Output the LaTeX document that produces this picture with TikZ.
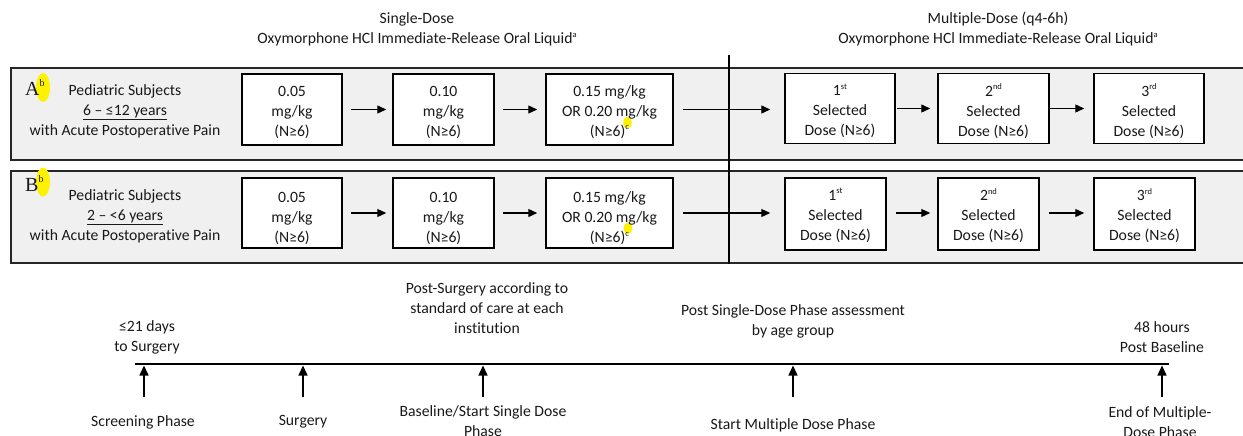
\documentclass[tikz,border=0pt]{standalone}
\usepackage{fontspec}
\setmainfont{Carlito}[Ligatures=NoCommon]
\newfontfamily\lblfont{Liberation Serif}
\usetikzlibrary{arrows.meta}
\newcommand\sps[1]{\raisebox{0.42em}{\fontsize{8.5}{8.5}\selectfont #1}}
\begin{document}
\begin{tikzpicture}[x=1pt,y=-1pt,
  every node/.style={font=\fontsize{15.7}{20}\selectfont, text=black!90},
  rowbox/.style={draw=black!85,line width=1.6pt,fill=black!6,anchor=north west,inner sep=0pt},
  dosebox/.style={draw=black,line width=1.5pt,fill=white,inner sep=0pt},
  txt/.style={align=center,inner sep=0pt},
  flow/.style={line width=1.3pt,-{Triangle[length=9pt,width=8pt]}},
  tflow/.style={line width=1.4pt,-{Triangle[length=10pt,width=9pt]}},
  hl/.style={fill=yellow,draw=none}]
\useasboundingbox (0,0) rectangle (1243,436);

% headers
\node[txt] (hdrS) at (417,29.5) {Single-Dose\\Oxymorphone HCl Immediate-Release Oral Liquid\sps{a}};
\node[txt] (hdrM) at (998,29.5) {Multiple-Dose (q4-6h)\\Oxymorphone HCl Immediate-Release Oral Liquid\sps{a}};

% rows
\node[rowbox,minimum width=1250pt,minimum height=92pt] (rowA) at (10,67) {};
\node[rowbox,minimum width=1250pt,minimum height=92pt] (rowB) at (10,170) {};
\coordinate (divT) at (729,55);
\draw[line width=1.3pt] (divT) -- (divT |- rowB.south);

% highlights of b
\fill[hl] (43,87.5) ellipse [x radius=7pt, y radius=14.5pt];
\fill[hl] (43,182) ellipse [x radius=7pt, y radius=14.5pt];
\node[anchor=base west,inner sep=0pt] (labA) at (25,95.5) {\lblfont\fontsize{20}{20}\selectfont A\raisebox{9pt}{\fontsize{10}{10}\selectfont b}};
\node[anchor=base west,inner sep=0pt] (labB) at (25,191.5) {\lblfont\fontsize{20}{20}\selectfont B\raisebox{9pt}{\fontsize{10}{10}\selectfont b}};
\node[txt] (grpA) at (125,111.5) {Pediatric Subjects\\\underline{6 – ≤12 years}\\with Acute Postoperative Pain};
\node[txt] (grpB) at (125,216.5) {Pediatric Subjects\\\underline{2 – <6 years}\\with Acute Postoperative Pain};

% row A boxes
\node[dosebox,minimum width=100pt,minimum height=71pt] (a1) at (292,109.5) {};
\node[dosebox,minimum width=101pt,minimum height=71pt] (a2) at (443.5,109.5) {};
\node[dosebox,minimum width=127pt,minimum height=71pt] (a3) at (609.5,109.5) {};
\node[dosebox,minimum width=110pt,minimum height=70pt] (m1) at (840,108.5) {};
\node[dosebox,minimum width=111pt,minimum height=70pt] (m2) at (993.5,108.5) {};
\node[dosebox,minimum width=110pt,minimum height=70pt] (m3) at (1149,108.5) {};
% row B boxes
\node[dosebox,minimum width=100pt,minimum height=70pt] (b1) at (292,213) {};
\node[dosebox,minimum width=101pt,minimum height=70pt] (b2) at (443.5,213) {};
\node[dosebox,minimum width=127pt,minimum height=70pt] (b3) at (609.5,213) {};
\node[dosebox,minimum width=101pt,minimum height=72pt] (n1) at (835.5,214) {};
\node[dosebox,minimum width=101pt,minimum height=72pt] (n2) at (988.5,214) {};
\node[dosebox,minimum width=101pt,minimum height=72pt] (n3) at (1144.5,214) {};

% highlights of c
\fill[hl] (627.5,122.5) ellipse [x radius=4.3pt, y radius=5.8pt];
\fill[hl] (628,228.3) ellipse [x radius=4.3pt, y radius=5.8pt];

% row A texts
\node[txt] (a1t) at ([yshift=-2.5pt]a1.center) {0.05\\mg/kg\\(N≥6)};
\node[txt] (a2t) at ([yshift=-2.5pt]a2.center) {0.10\\mg/kg\\(N≥6)};
\node[txt] (a3t) at ([yshift=-2.5pt]a3.center) {0.15 mg/kg\\OR 0.20 mg/kg\\(N≥6)\sps{c}};
\node[txt] (m1t) at ([yshift=-2.5pt]m1.center) {1\sps{st}\\Selected\\Dose (N≥6)};
\node[txt] (m2t) at ([yshift=-2.5pt]m2.center) {2\sps{nd}\\Selected\\Dose (N≥6)};
\node[txt] (m3t) at ([yshift=-2.5pt]m3.center) {3\sps{rd}\\Selected\\Dose (N≥6)};
% row B texts (clipped at the bottom as in the source)
\begin{scope}
\clip (b1.north west) rectangle ([yshift=5pt]b3.south east);
\node[txt] (b1t) at ([yshift=-5.5pt]b1.center) {0.05\\mg/kg\\(N≥6)};
\node[txt] (b2t) at ([yshift=-5.5pt]b2.center) {0.10\\mg/kg\\(N≥6)};
\node[txt] (b3t) at ([yshift=-5.5pt]b3.center) {0.15 mg/kg\\OR 0.20 mg/kg\\(N≥6)\sps{c}};
\end{scope}
\node[txt] (n1t) at ([yshift=-1.5pt]n1.center) {1\sps{st}\\Selected\\Dose (N≥6)};
\node[txt] (n2t) at ([yshift=-1.5pt]n2.center) {2\sps{nd}\\Selected\\Dose (N≥6)};
\node[txt] (n3t) at ([yshift=-1.5pt]n3.center) {3\sps{rd}\\Selected\\Dose (N≥6)};

% row arrows
\draw[flow,shorten <=8pt,shorten >=6pt] (a1.east) -- (a2.west);
\draw[flow,shorten <=8pt,shorten >=8pt] (a2.east) -- (a3.west);
\draw[flow,shorten <=9pt,shorten >=14pt] (a3.east) -- (a3.east -| m1.west);
\draw[flow,shorten <=1pt,shorten >=7pt] (m1.east) -- (m2.west);
\draw[flow,shorten <=0pt,shorten >=9pt] (m2.east) -- (m3.west);
\draw[flow,shorten <=8pt,shorten >=6pt] (b1.east) -- (b2.west);
\draw[flow,shorten <=8pt,shorten >=8pt] (b2.east) -- (b3.west);
\draw[flow,shorten <=9pt,shorten >=14pt] (b3.east) -- (b3.east -| n1.west);
\draw[flow,shorten <=9pt,shorten >=7pt] (n1.east |- b3.east) -- (b3.east -| n2.west);
\draw[flow,shorten <=9pt,shorten >=9pt] (n2.east |- b3.east) -- (b3.east -| n3.west);

% timeline
\coordinate (tlS) at (135,364);
\coordinate (tlE) at (1169,364);
\draw[line width=1.5pt] (tlS) -- (tlE);
\coordinate (e1) at (144,397);
\coordinate (e2) at (303,397);
\coordinate (e3) at (483,397);
\coordinate (e4) at (793,397);
\coordinate (e5) at (1162,397);
\foreach \e in {e1,e2,e3,e4,e5}{\draw[tflow,shorten >=1.5pt] (\e) -- (\e |- tlS);}

\node[txt] (top1) at (147,337) {≤21 days\\to Surgery};
\node[txt] (top2) at (487,308) {Post-Surgery according to\\standard of care at each\\institution};
\node[txt] (top3) at (793,321.5) {Post Single-Dose Phase assessment\\by age group};
\node[txt] (top4) at (1162,337) {48 hours\\Post Baseline};
\node[txt] (bot1) at (143,422) {Screening Phase};
\node[txt] (bot2) at (303,422) {Surgery};
\node[txt] (bot3) at (483,421.5) {Baseline/Start Single Dose\\Phase};
\node[txt] (bot4) at (793,425) {Start Multiple Dose Phase};
\node[txt] (bot5) at (1160,422.5) {End of Multiple-\\Dose Phase};
\end{tikzpicture}
\end{document}
